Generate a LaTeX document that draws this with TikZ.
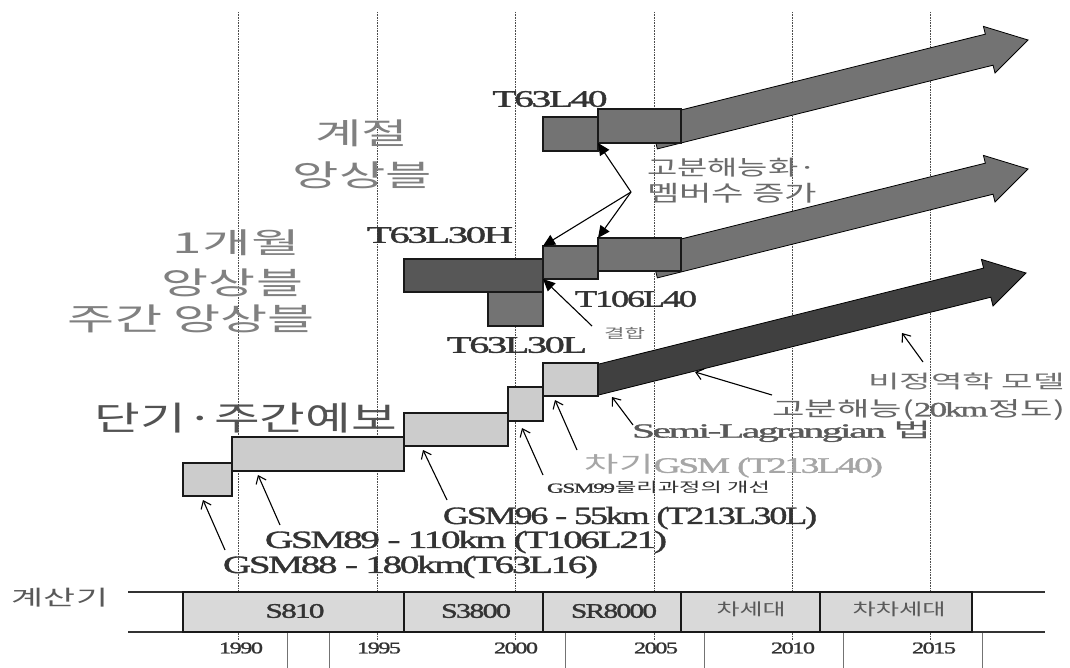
\documentclass[tikz,border=0pt]{standalone}
\usepackage{fontspec}
\usepackage{graphicx}
\usetikzlibrary{arrows.meta}
\newfontfamily\lat[LetterSpace=-6,FakeBold=1.2]{Liberation Serif}
\newfontfamily\kor{Noto Sans CJK KR}
\definecolor{lbox}{HTML}{CCCCCC}
\definecolor{abox}{HTML}{D9D9D9}
\definecolor{mgray}{HTML}{737373}
\definecolor{dgray}{HTML}{575757}
\definecolor{vdark}{HTML}{404040}
\definecolor{titlegray}{HTML}{808080}
\definecolor{txtdark}{HTML}{333333}
\newcommand\fitt[3]{\resizebox*{#1pt}{#2pt}{#3}}
\newcommand\rbox[6]{\node[bx,fill=#2,minimum width=#5pt-#3pt,minimum height=#6pt-#4pt] (#1) at ({(#3+#5)/2},{(#4+#6)/2}) {};}
\newcommand\bigarr[5]{%
\begin{scope}[shift={(#1,#2)},rotate=14]
\filldraw[fill=#5,draw=black,line width=0.8pt] (0,0) -- (-40,-24) -- (-40,-#4) -- (-#3,-#4) -- (-#3,#4) -- (-40,#4) -- (-40,24) -- cycle;
\end{scope}}
\begin{document}
\begin{tikzpicture}[x=1pt,y=-1pt,
  txt/.style={inner sep=0pt,outer sep=0pt,anchor=center},
  bx/.style={draw=black!90,line width=1.1pt,inner sep=0pt,outer sep=0pt},
  gridln/.style={densely dotted,line width=0.6pt,black!70},
  ptr/.style={line width=1.1pt,-{Straight Barb[length=7pt,width=11pt,line width=1.1pt]}},
  fptr/.style={line width=1.1pt,-{Triangle[length=12pt,width=11pt]}}]
\useasboundingbox[fill=white] (0,0) rectangle (1070,668);
% grid lines
\foreach \gx in {238,377,515,654,792,930} \draw[gridln] (\gx,12) -- (\gx,640);
\foreach \gx in {287,329,565,704,843,982} \draw[black!55,line width=0.5pt] (\gx,633) -- (\gx,668);
% axis band
\draw[line width=2pt,black!80] (128,592) -- (1045,592);
\draw[line width=2pt,black!80] (128,632) -- (1045,632);
\rbox{s1}{abox}{183}{592}{404}{632}
\rbox{s2}{abox}{404}{592}{543}{632}
\rbox{s3}{abox}{543}{592}{681}{632}
\rbox{s4}{abox}{681}{592}{820}{632}
\rbox{s5}{abox}{820}{592}{972}{632}
\node[txt,text=txtdark] (l1) at (295,611) {\fitt{59}{14}{\lat S810}};
\node[txt,text=txtdark] (l2) at (476,611) {\fitt{70}{14}{\lat S3800}};
\node[txt,text=txtdark] (l3) at (614,611) {\fitt{86}{14}{\lat SR8000}};
\node[txt,text=black!65] (l4) at (751,609) {\fitt{69}{15}{\kor 차세대}};
\node[txt,text=black!65] (l5) at (899,609) {\fitt{93}{15}{\kor 차차세대}};
\node[txt,text=black!65] (calc) at (60,598) {\fitt{96}{19}{\kor 계산기}};
% years
\foreach \yx/\yl in {241/1990,379/1995,516/2000,656/2005,793/2010,934/2015}
  \node[txt,text=txtdark] (y\yl) at (\yx,648) {\fitt{44}{11}{\lat \yl}};
% big arrows
\bigarr{1028}{40}{386}{16}{mgray}
\bigarr{1028}{169}{386}{16}{mgray}
\bigarr{1026}{273}{445}{15}{vdark}
% top row boxes
\rbox{bA}{mgray}{543}{117}{598}{151}
\rbox{bB}{mgray}{598}{109}{681}{143}
% middle row boxes
\rbox{bG}{mgray}{488}{292}{543}{326}
\rbox{bF}{dgray}{404}{259}{543}{292}
\rbox{bD}{mgray}{543}{246}{598}{279}
\rbox{bC}{mgray}{598}{238}{681}{271}
% bottom staircase boxes
\rbox{bH}{lbox}{183}{463}{232}{496}
\rbox{bI}{lbox}{232}{437}{404}{471}
\rbox{bJ}{lbox}{404}{413}{508}{446}
\rbox{bK}{lbox}{508}{387}{543}{421}
\rbox{bE}{lbox}{543}{363}{598}{396}
% titles
\node[txt,text=titlegray] (k1) at (361.5,133.5) {\fitt{93}{27}{\kor 계절}};
\node[txt,text=titlegray] (k2) at (362.5,175) {\fitt{139}{27}{\kor 앙상블}};
\node[txt,text=titlegray] (k3) at (236.5,242.5) {\fitt{127}{26}{\kor 1개월}};
\node[txt,text=titlegray] (k4) at (232.5,282.5) {\fitt{141}{28}{\kor 앙상블}};
\node[txt,text=titlegray] (k5) at (191.5,319) {\fitt{247}{28}{\kor 주간 앙상블}};
\node[txt,text=black!68] (k6) at (246,418) {\fitt{302}{30}{\kor 단기·주간예보}};
% model labels
\node[txt,text=txtdark] (m1) at (550,99) {\fitt{115}{16}{\lat T63L40}};
\node[txt,text=txtdark] (m2) at (440,235) {\fitt{146}{16}{\lat T63L30H}};
\node[txt,text=txtdark] (m3) at (636,299) {\fitt{122}{16}{\lat T106L40}};
\node[txt,text=txtdark] (m4) at (517,345) {\fitt{140}{16}{\lat T63L30L}};
\node[txt,text=black!55] (m5) at (624.5,333) {\fitt{41}{12}{\kor 결합}};
\node[txt,text=black!58,anchor=west] (m6) at (647,167.5) {\fitt{170}{19}{\kor 고분해능화·}};
\node[txt,text=black!58,anchor=west] (m7) at (647,193) {\fitt{170}{20}{\kor 멤버수 증가}};
\node[txt,text=txtdark] (g1) at (410.5,567) {\fitt{375}{22.5}{\lat GSM88 - 180km(T63L16)}};
\node[txt,text=txtdark] (g2) at (466,542) {\fitt{402}{22.5}{\lat GSM89 - 110km (T106L21)}};
\node[txt,text=txtdark] (g3) at (630,518) {\fitt{374}{22.5}{\lat GSM96 - 55km (T213L30L)}};
\node[txt,text=txtdark] (g4) at (658.5,487.5) {\fitt{223}{12.5}{\lat GSM99\kor 물리과정의 개선}};
\node[txt,text=black!35] (g5) at (734,466) {\fitt{298}{23}{\kor 차기\lat GSM (T213L40)}};
\node[txt,text=black!65] (g6) at (782,431.5) {\fitt{300}{21}{\lat Semi-Lagrangian \kor 법}};
\node[txt,text=black!60] (g7) at (918.5,410) {\fitt{293}{21}{\kor 고분해능(\lat 20km\kor 정도)}};
\node[txt,text=black!56] (g8) at (966.5,381.5) {\fitt{197}{17}{\kor 비정역학 모델}};
% pointers
\coordinate (p1s) at (225,550); \coordinate (p1e) at (203,500);
\coordinate (p2s) at (280,525); \coordinate (p2e) at (258,475);
\coordinate (p3s) at (447,500); \coordinate (p3e) at (423,450);
\coordinate (p4s) at (543,475); \coordinate (p4e) at (522,428);
\coordinate (p5s) at (577,450); \coordinate (p5e) at (555,400);
\coordinate (p6s) at (633,425); \coordinate (p6e) at (612,397);
\coordinate (p7s) at (772,395); \coordinate (p7e) at (695,372);
\coordinate (p8s) at (923,362); \coordinate (p8e) at (902,333);
\foreach \i in {1,...,8} \draw[ptr] (p\i s) -- (p\i e);
\coordinate (q0) at (592,326);
\draw[fptr] (q0) -- (bD.south west);
\coordinate (hub) at (631,192);
\draw[fptr] (hub) -- (bB.south west);
\draw[fptr] (hub) -- (bD.north west);
\draw[fptr] (hub) -- (bC.north west);
\end{tikzpicture}
\end{document}
